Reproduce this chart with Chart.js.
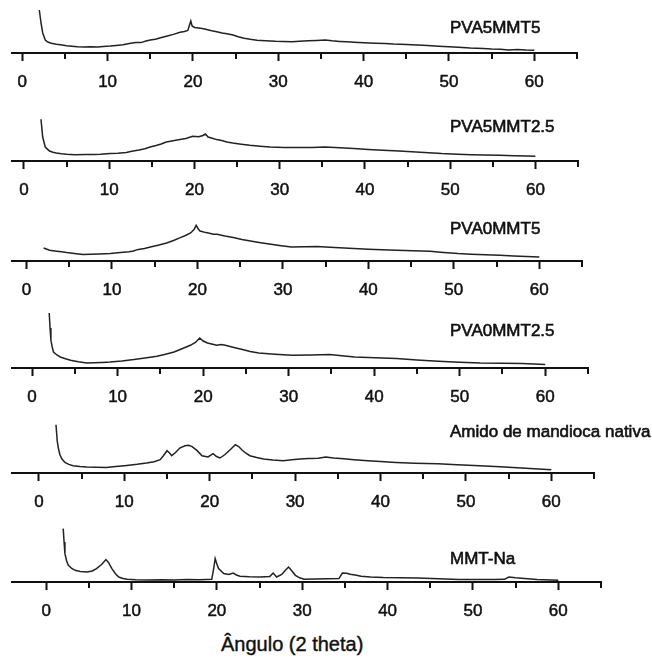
<!DOCTYPE html>
<html>
<head>
<meta charset="utf-8">
<script src="https://cdn.jsdelivr.net/npm/chart.js@4.4.0/dist/chart.umd.min.js"></script>
<style>
  html, body { margin: 0; padding: 0; background: #fff; }
  #wrap { position: relative; width: 652px; height: 658px; overflow: hidden; }
  #wrap canvas { position: absolute; left: 0; }
  #xtitle {
    position: absolute; left: 221px; top: 634px;
    font: 20px "Liberation Sans", Arial, sans-serif; line-height: 20px;
    color: #111; white-space: nowrap;
    -webkit-text-stroke: 0.4px #111;
  }
</style>
</head>
<body>
<div id="wrap">
  <canvas id="p1" width="652" height="102"></canvas>
  <canvas id="p2" width="652" height="102"></canvas>
  <canvas id="p3" width="652" height="102"></canvas>
  <canvas id="p4" width="652" height="102"></canvas>
  <canvas id="p5" width="652" height="102"></canvas>
  <canvas id="p6" width="652" height="102"></canvas>
  <div id="xtitle">Ângulo (2 theta)</div>
</div>
<script>
/* =========================
   DADOS (2 theta / intensidade, u.a.)
========================= */
const MAJOR_TICKS = [0, 10, 20, 30, 40, 50, 60];
const MINOR_TICKS = [5, 15, 25, 35, 45, 55, 65];

const pva5mmt5Angle = [2.0, 2.2, 2.4, 2.7, 3.0, 3.4, 4.0, 4.5, 5.2, 5.8, 6.5, 7.2, 8.0, 8.8, 9.5, 10.3, 11.0, 11.8, 12.7, 13.3, 13.9, 14.5, 15.0, 15.6, 16.2, 17.0, 17.7, 18.5, 19.0, 19.4, 19.6, 19.75, 19.9, 20.2, 20.9, 21.5, 22.2, 22.8, 23.4, 24.0, 24.7, 25.3, 26.0, 26.7, 27.5, 28.5, 29.7, 30.6, 31.6, 32.5, 33.5, 34.5, 35.5, 36.3, 37.2, 38.0, 38.9, 40.0, 41.4, 42.5, 43.5, 45.0, 46.3, 47.5, 48.8, 50.0, 51.1, 52.5, 54.0, 55.0, 56.0, 57.0, 58.0, 59.0, 60.0];
const pva5mmt5Int = [43, 30, 20, 13, 11, 9.8, 8.8, 8.2, 7.3, 6.8, 6.2, 6.0, 6.3, 6.1, 6.6, 7.0, 7.6, 8.3, 9.7, 10.6, 10.4, 12.0, 13.0, 13.8, 15.3, 17.0, 18.6, 20.7, 21.5, 22.5, 28, 32, 27, 25.5, 24.7, 23.8, 22.2, 21.3, 20.0, 19.2, 18.0, 16.2, 14.8, 13.7, 12.8, 12.2, 11.7, 11.5, 11.3, 11.8, 12.2, 12.6, 13.0, 12.2, 11.6, 11.2, 10.7, 10.2, 9.7, 9.5, 9.0, 8.6, 8.0, 7.4, 6.8, 6.2, 5.7, 5.0, 4.6, 4.0, 3.7, 3.0, 3.4, 3.0, 2.8];

const pva5mmt25Angle = [2.0, 2.2, 2.5, 3.0, 3.4, 3.8, 4.4, 5.0, 6.0, 7.3, 8.2, 9.0, 10.1, 11.0, 12.0, 12.8, 13.5, 14.2, 14.8, 15.5, 16.1, 16.7, 17.5, 18.3, 19.0, 19.8, 20.5, 21.0, 21.3, 21.6, 22.1, 22.6, 23.2, 23.8, 24.5, 25.5, 26.5, 27.7, 28.9, 30.5, 32.4, 33.8, 35.3, 36.5, 37.6, 38.7, 40.4, 42.1, 44.0, 46.0, 47.5, 49.0, 50.9, 52.5, 54.0, 55.8, 57.5, 59.0, 60.0];
const pva5mmt25Int = [41.7, 24, 14, 10, 8.8, 8.0, 7.2, 6.7, 6.3, 6.4, 6.6, 6.8, 7.4, 7.8, 8.6, 10.0, 11.0, 12.3, 14.0, 15.5, 17.0, 19.0, 20.2, 21.4, 22.5, 24.7, 24.2, 25.5, 27.0, 24.0, 22.8, 21.4, 20.5, 19.0, 18.0, 16.8, 15.7, 14.8, 14.0, 13.6, 13.4, 13.6, 14.0, 13.4, 12.9, 12.4, 11.6, 10.7, 9.9, 9.0, 8.3, 7.4, 6.7, 6.3, 6.0, 5.7, 5.2, 5.0, 4.7];

const pva0mmt5Angle = [2.0, 2.7, 3.5, 4.1, 4.7, 5.6, 6.6, 7.5, 8.5, 9.8, 11.0, 12.0, 12.5, 13.1, 13.8, 14.5, 15.5, 16.4, 17.2, 18.0, 18.6, 19.2, 19.6, 19.85, 20.1, 20.3, 21.0, 21.9, 22.3, 23.2, 24.2, 25.2, 26.2, 27.4, 28.6, 29.8, 31.0, 32.5, 34.0, 35.0, 36.6, 38.3, 40.0, 41.6, 43.3, 45.2, 47.2, 48.8, 50.5, 52.0, 53.7, 55.4, 57.0, 58.5, 60.0];
const pva0mmt5Int = [13, 10.7, 9.8, 9.2, 8.4, 7.4, 6.4, 6.7, 6.9, 7.4, 8.4, 9.2, 10.0, 11.6, 12.6, 14.0, 16.0, 18.0, 20.5, 23.4, 25.5, 28.0, 31.5, 35.7, 32.0, 30.0, 28.4, 26.7, 26.7, 25.0, 23.4, 21.5, 20.0, 18.3, 16.7, 15.3, 14.0, 14.2, 14.5, 14.0, 13.2, 12.4, 11.8, 11.2, 10.7, 10.2, 9.7, 8.5, 7.4, 6.8, 6.3, 5.7, 5.0, 4.6, 4.0];

const pva0mmt25Angle = [2.0, 2.1, 2.2, 2.35, 2.5, 2.9, 3.3, 3.9, 4.5, 5.4, 6.4, 7.2, 8.2, 9.1, 10.5, 11.9, 13.2, 14.6, 15.6, 16.6, 17.6, 18.5, 19.1, 19.6, 20.0, 20.5, 21.0, 21.6, 22.1, 22.6, 23.6, 24.6, 25.5, 26.5, 28.4, 30.4, 32.6, 34.8, 36.2, 37.7, 40.1, 42.6, 45.0, 47.5, 50.0, 52.4, 55.0, 57.3, 60.0];
const pva0mmt25Int = [55, 40, 27.7, 21, 16, 13, 11, 9.2, 7.7, 6.3, 5.0, 5.2, 5.6, 6.0, 7.0, 8.4, 10.0, 11.7, 13.8, 16.0, 19.5, 22.7, 25.5, 30.0, 27.0, 25.0, 24.0, 22.7, 23.5, 22.7, 20.5, 18.4, 16.6, 15.0, 13.8, 12.7, 13.0, 13.4, 12.2, 11.0, 10.2, 9.4, 8.0, 6.7, 5.8, 5.0, 4.7, 4.4, 3.4];

const amidoAngle = [2.0, 2.15, 2.3, 2.46, 2.7, 3.05, 3.5, 4.0, 4.8, 5.6, 6.7, 7.9, 9.0, 10.3, 11.5, 12.6, 13.5, 14.2, 14.6, 15.0, 15.3, 15.55, 16.0, 16.5, 17.1, 17.5, 17.9, 18.5, 19.1, 19.8, 20.4, 20.8, 21.2, 21.8, 22.4, 23.0, 23.4, 23.75, 24.2, 24.7, 25.5, 26.3, 27.4, 28.6, 29.6, 30.6, 31.6, 32.7, 33.6, 34.5, 35.7, 36.9, 38.5, 40.0, 41.8, 44.0, 46.7, 49.0, 51.6, 54.0, 56.5, 58.5, 60.0];
const amidoInt = [48.3, 31.6, 24, 18.3, 14, 10.6, 8.6, 7.3, 6.5, 6.0, 5.8, 5.6, 6.5, 7.6, 8.7, 10.0, 11.3, 13.3, 17.5, 22.3, 20.0, 17.3, 20.5, 25.0, 27.3, 27.8, 26.6, 22.6, 17.3, 16.0, 19.3, 16.5, 15.0, 18.5, 23.3, 28.3, 26.5, 23.3, 20.0, 17.3, 15.5, 14.0, 13.0, 12.3, 13.2, 14.0, 14.6, 14.8, 16.0, 15.0, 14.2, 13.3, 12.2, 11.4, 10.6, 9.8, 9.3, 8.3, 7.3, 6.2, 5.0, 4.0, 3.3];

const mmtNaAngle = [2.0, 2.1, 2.2, 2.4, 2.6, 3.0, 3.4, 4.0, 4.8, 5.4, 5.9, 6.5, 7.0, 7.3, 7.7, 8.1, 8.5, 9.0, 9.5, 10.5, 12.0, 13.5, 15.0, 16.5, 18.0, 19.4, 19.6, 19.8, 20.0, 20.2, 20.8, 21.4, 21.9, 22.3, 22.7, 23.8, 25.1, 26.2, 26.6, 27.0, 27.6, 28.0, 28.4, 28.8, 29.2, 29.7, 30.2, 31.5, 33.0, 34.3, 34.7, 35.2, 35.6, 36.2, 36.9, 38.0, 39.5, 41.5, 43.5, 46.0, 48.3, 50.5, 52.5, 53.7, 54.2, 55.0, 55.7, 57.5, 60.0];
const mmtNaInt = [53.4, 40, 28.4, 21, 16.7, 13.5, 11.7, 10.6, 10.0, 11.0, 13.4, 17.5, 22.4, 19.5, 13.4, 8.5, 5.0, 3.5, 2.7, 2.2, 2.0, 2.3, 2.1, 2.4, 2.2, 2.7, 12, 23.4, 18, 13.4, 8.4, 7.6, 9.0, 7.0, 5.7, 5.2, 5.0, 5.6, 9.0, 5.0, 7.5, 11.5, 15.0, 11.0, 6.7, 4.2, 2.7, 3.0, 3.2, 3.4, 9.0, 8.8, 7.7, 7.0, 5.7, 5.0, 4.4, 4.2, 4.0, 3.2, 2.4, 2.6, 2.5, 2.7, 5.0, 4.2, 3.7, 2.6, 1.7];

/* =========================
   PAINÉIS (posição de cada eixo na página)
========================= */
const INK = '#111111';
const FONT = '"Liberation Sans", Arial, sans-serif';
const AREA_H = 60;   // altura da área de dados (px) acima do eixo

const panels = [
  { id: 'p1', name: 'PVA5MMT5',                  angle: pva5mmt5Angle,  int: pva5mmt5Int,  axisY: 53,    xMin: -1.2,  padRight: 75, labelY: 32.7 },
  { id: 'p2', name: 'PVA5MMT2.5',                angle: pva5mmt25Angle, int: pva5mmt25Int, axisY: 160.7, xMin: -1.4,  padRight: 74, labelY: 131.7 },
  { id: 'p3', name: 'PVA0MMT5',                  angle: pva0mmt5Angle,  int: pva0mmt5Int,  axisY: 260.7, xMin: -1.7,  padRight: 70, labelY: 234 },
  { id: 'p4', name: 'PVA0MMT2.5',                angle: pva0mmt25Angle, int: pva0mmt25Int, axisY: 367.7, xMin: -2.35, padRight: 64, labelY: 335.7 },
  { id: 'p5', name: 'Amido de mandioca nativa',  angle: amidoAngle,     int: amidoInt,     axisY: 473.3, xMin: -3.15, padRight: 58, labelY: 437.3 },
  { id: 'p6', name: 'MMT-Na',                    angle: mmtNaAngle,     int: mmtNaInt,     axisY: 581.7, xMin: -4.0,  padRight: 51, labelY: 564 }
];

/* =========================
   PLUGINS
========================= */
const minorTicks = {
  id: 'minorTicks',
  afterDraw(chart) {
    const xs = chart.scales.x;
    const ctx = chart.ctx;
    const y0 = chart.chartArea.bottom;
    ctx.save();
    ctx.strokeStyle = INK;
    ctx.lineWidth = 2;
    MINOR_TICKS.forEach(v => {
      const px = Math.round(xs.getPixelForValue(v));
      ctx.beginPath();
      ctx.moveTo(px, y0);
      ctx.lineTo(px, y0 + 6);
      ctx.stroke();
    });
    ctx.restore();
  }
};

const sampleLabel = {
  id: 'sampleLabel',
  afterDraw(chart, args, opts) {
    const ctx = chart.ctx;
    ctx.save();
    ctx.fillStyle = INK;
    ctx.strokeStyle = INK;
    ctx.lineWidth = 0.6;
    ctx.font = '17px ' + FONT;
    ctx.textBaseline = 'alphabetic';
    ctx.fillText(opts.text, opts.x, opts.y);
    ctx.strokeText(opts.text, opts.x, opts.y);
    ctx.restore();
  }
};

/* =========================
   GRÁFICOS
========================= */
panels.forEach(p => {
  const canvas = document.getElementById(p.id);
  const top = p.axisY - AREA_H;
  canvas.style.top = top + 'px';

  new Chart(canvas.getContext('2d'), {
    type: 'line',
    data: {
      datasets: [{
        label: p.name,
        data: p.angle.map((a, i) => ({ x: a, y: p.int[i] })),
        borderColor: '#222222',
        borderWidth: 1.5,
        pointRadius: 0,
        tension: 0,
        fill: false
      }]
    },
    options: {
      responsive: false,
      animation: false,
      devicePixelRatio: 1,
      layout: { padding: { left: 12, right: p.padRight, top: 0, bottom: 0 } },
      plugins: {
        legend: { display: false },
        tooltip: { enabled: false },
        sampleLabel: { text: p.name, x: 450, y: p.labelY - top }
      },
      scales: {
        x: {
          type: 'linear',
          min: p.xMin,
          max: 65,
          afterBuildTicks: s => { s.ticks = MAJOR_TICKS.map(v => ({ value: v })); },
          afterFit: s => { s.height = 42; },
          ticks: {
            autoSkip: false,
            maxRotation: 0,
            padding: 11,
            color: INK,
            textStrokeColor: INK,
            textStrokeWidth: 0.5,
            font: { family: FONT, size: 17 }
          },
          grid: {
            display: true,
            drawOnChartArea: false,
            drawTicks: true,
            tickLength: 8,
            tickWidth: 2,
            tickColor: INK
          },
          border: { display: true, color: INK, width: 2 }
        },
        y: { display: false, min: 0, max: AREA_H }
      }
    },
    plugins: [minorTicks, sampleLabel]
  });
});
</script>
</body>
</html>
